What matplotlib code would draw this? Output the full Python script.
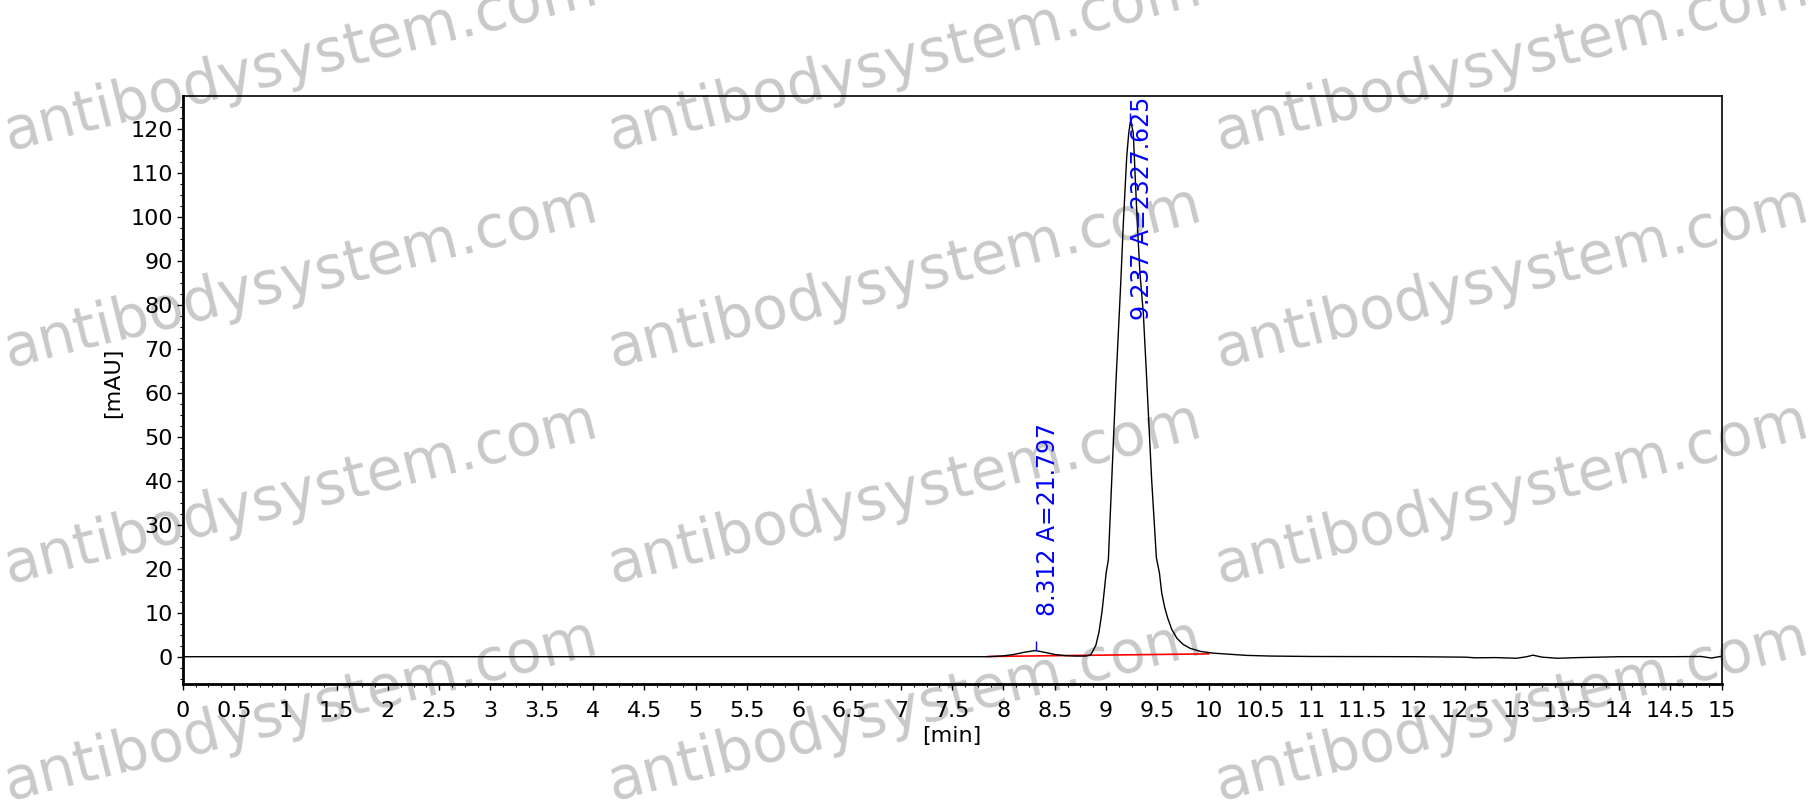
import matplotlib
matplotlib.use("Agg")
import matplotlib.pyplot as plt
from matplotlib.ticker import MultipleLocator, FuncFormatter

# ---- data ----
time_min = [0.0, 7.5, 7.85, 8.0, 8.1, 8.2, 8.31, 8.4, 8.5, 8.6, 8.7, 8.8, 8.85, 8.9,
            8.93, 8.96, 8.98, 9.0, 9.022, 9.055, 9.097, 9.142, 9.168, 9.201, 9.22,
            9.235, 9.25, 9.265, 9.282, 9.304, 9.33, 9.363, 9.396, 9.444, 9.49, 9.52,
            9.542, 9.57, 9.6, 9.64, 9.69, 9.75, 9.82, 9.92, 10.05, 10.37, 10.6, 11.0,
            12.0, 12.5, 12.6, 12.8, 13.0, 13.1, 13.16, 13.25, 13.4, 13.6, 14.0, 14.5,
            14.8, 14.9, 15.0]
signal_mau = [0.0, 0.0, 0.0, 0.2, 0.5, 1.0, 1.4, 1.0, 0.5, 0.25, 0.15, 0.15, 0.4, 2.6,
              5.5, 10.2, 14.5, 19.0, 22.0, 40.2, 62.9, 84.5, 98.5, 113.6, 118.8,
              121.4, 120.6, 119.0, 109.9, 98.5, 87.1, 78.0, 62.9, 40.2, 22.5, 19.0,
              14.5, 11.3, 8.8, 6.2, 4.2, 2.8, 1.9, 1.2, 0.8, 0.3, 0.15, 0.05,
              0.0, -0.1, -0.25, -0.2, -0.35, 0.0, 0.35, -0.1, -0.35, -0.2, 0.0, 0.0,
              0.05, -0.3, 0.1]

baseline_t = [7.85, 10.0]
baseline_v = [0.05, 0.65]

peak_times = [8.312, 9.237]
peak_heights = [1.4, 121.4]
peak_areas = [21.797, 2327.625]
label_y = [9.3, 127.2]
label_va = ["bottom", "top"]

x_ticks_step = 0.5
y_ticks_step = 10
watermark = "antibodysystem.com"
wm_cols_px = [9, 613, 1220]
wm_rows_px = [150, 367, 583, 800]

W, H = 1812, 805
fig = plt.figure(figsize=(W / 100, H / 100), dpi=100)
fig.patch.set_facecolor("white")

# watermark (behind the axes)
for cx in wm_cols_px:
    for ry in wm_rows_px:
        fig.text(cx / W, 1 - ry / H, watermark, rotation=14, rotation_mode="anchor",
                 ha="left", va="baseline", fontsize=42, color="#c9c9c9", zorder=-5)

ax = fig.add_axes([182.7 / W, 1 - 684 / H, (1721.7 - 182.7) / W, (684 - 96) / H])
ax.set_facecolor("none")

ax.plot(time_min, signal_mau, color="black", lw=1.0, zorder=3)
ax.plot(baseline_t, baseline_v, color="red", lw=1.2, zorder=2)
ax.vlines(peak_times, peak_heights, [h + 2.2 for h in peak_heights], color="blue", lw=1.0, zorder=4)
for t, a, ly, va in zip(peak_times, peak_areas, label_y, label_va):
    ax.text(t, ly, f"{t:.3f} A={a:.3f}", rotation=90, ha="left", va=va,
            color="blue", fontsize=17, zorder=5)

ax.set_xlim(0, 15)
ax.set_ylim(-6.2, 127.4)
ax.xaxis.set_major_locator(MultipleLocator(x_ticks_step))
ax.xaxis.set_minor_locator(MultipleLocator(0.125))
ax.yaxis.set_major_locator(MultipleLocator(y_ticks_step))
ax.yaxis.set_minor_locator(MultipleLocator(2.5))
ax.xaxis.set_major_formatter(FuncFormatter(lambda v, p: f"{v:g}"))
ax.yaxis.set_major_formatter(FuncFormatter(lambda v, p: f"{v:g}"))

ax.tick_params(axis="both", which="major", direction="out", length=4, width=1,
               labelsize=16, color="black")
ax.tick_params(axis="both", which="minor", direction="out", length=2.5, width=0.8)
ax.tick_params(axis="x", which="major", pad=8)
ax.tick_params(axis="y", which="major", pad=3)

for side in ["left", "bottom"]:
    ax.spines[side].set_linewidth(2.0)
for side in ["top", "right"]:
    ax.spines[side].set_linewidth(1.2)

ax.set_xlabel("[min]", fontsize=16)
ax.set_ylabel("[mAU]", fontsize=16)
ax.xaxis.set_label_coords(0.5, -0.072)
ax.yaxis.set_label_coords(-0.039, 0.512)

fig.savefig("out.png", dpi=100, facecolor="white")
